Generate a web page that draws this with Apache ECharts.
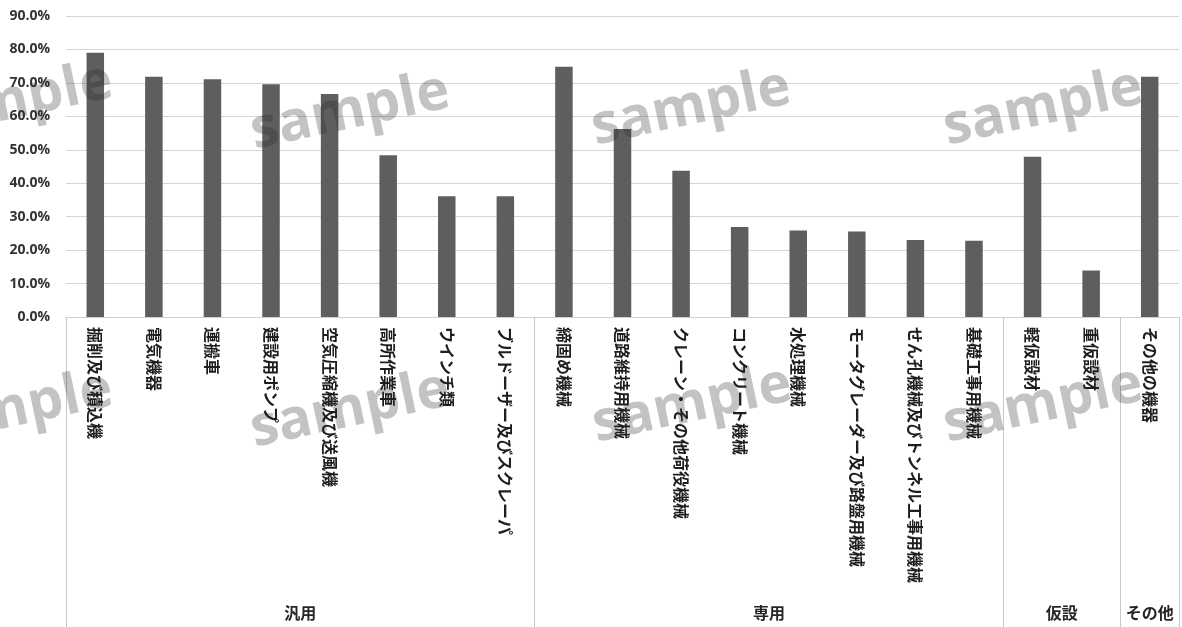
<!DOCTYPE html>
<html>
<head>
<meta charset="utf-8">
<script src="https://cdn.jsdelivr.net/npm/echarts@6/dist/echarts.min.js"></script>
<style>
html,body{margin:0;padding:0;background:#fff;}
#chart{width:1182px;height:627px;}
</style>
</head>
<body>
<div id="chart"></div>
<script>
// ---- data ----
const categories = [
  '掘削及び積込機','電気機器','運搬車','建設用ポンプ','空気圧縮機及び送風機','高所作業車','ウインチ類','ブルドーザー及びスクレーパ',
  '締固め機械','道路維持用機械','クレーン・その他荷役機械','コンクリート機械','水処理機械','モータグレーダー及び路盤用機械','せん孔機械及びトンネル工事用機械','基礎工事用機械',
  '軽仮設材','重仮設材',
  'その他の機器'
];
const values = [79.0, 71.8, 71.1, 69.6, 66.7, 48.4, 36.1, 36.1,
                74.8, 56.2, 43.7, 26.9, 25.9, 25.6, 23.0, 22.8,
                47.9, 13.9,
                71.8];
const groupNames = ['汎用', '専用', '仮設', 'その他'];
const groupSizes = [8, 8, 2, 1];
const yTicks = [0, 10, 20, 30, 40, 50, 60, 70, 80, 90];
const watermarkText = 'sample';

// derived from the data above
const boundaries = [0];
groupSizes.forEach(function (n) { boundaries.push(boundaries[boundaries.length - 1] + n); });
const groupCenters = {};
groupNames.forEach(function (g, i) { groupCenters[(boundaries[i] + boundaries[i + 1]) / 2] = g; });

const chart = echarts.init(document.getElementById('chart'), null, {renderer: 'canvas'});

const wmPos = [[13,102],[350,112],[691,108],[1043,108],[13,410],[350,410],[692,405],[1043,405]];
const graphics = wmPos.map(function (p) {
  return {
    type: 'text', x: p[0], y: p[1], rotation: 0.21, z: 100, silent: true,
    style: {
      text: watermarkText, fill: 'rgba(40,40,40,0.28)',
      font: 'bold 56px "Open Sans", "Noto Sans", sans-serif',
      align: 'center', verticalAlign: 'middle'
    }
  };
});

chart.setOption({
  animation: false,
  backgroundColor: '#ffffff',
  grid: {left: 66, top: 16, width: 1119, height: 301, containLabel: false},
  xAxis: [{
    type: 'category',
    data: categories,
    boundaryGap: true,
    axisLine: {show: true, lineStyle: {color: '#d0d0d0', width: 1}},
    axisTick: {
      show: true, length: 310, inside: false,
      interval: function (index) { return boundaries.indexOf(index) >= 0; },
      lineStyle: {color: '#c8c8c8', width: 1}
    },
    axisLabel: {
      interval: 0, rotate: -90, margin: 10,
      color: '#1e1e1e', fontSize: 16, fontWeight: 'bold',
      fontFamily: '"Noto Sans CJK JP", sans-serif'
    },
    splitLine: {show: false}
  }, {
    type: 'value',
    position: 'bottom',
    min: 0, max: categories.length, interval: 0.5,
    offset: 282,
    axisLine: {show: false}, axisTick: {show: false}, splitLine: {show: false},
    axisLabel: {
      show: true, margin: 6, showMinLabel: true, showMaxLabel: true,
      color: '#262626', fontSize: 16, fontWeight: 'bold',
      fontFamily: '"Noto Sans CJK JP", sans-serif',
      formatter: function (v) { return groupCenters[v] || ''; }
    }
  }],
  yAxis: {
    type: 'value',
    min: yTicks[0], max: yTicks[yTicks.length - 1], interval: 10,
    axisLine: {show: false}, axisTick: {show: false},
    splitLine: {show: true, lineStyle: {color: '#d6d6d6', width: 1}},
    axisLabel: {
      margin: 16, color: '#333333', fontSize: 14, fontWeight: 'bold',
      fontFamily: '"Open Sans", "Noto Sans", sans-serif',
      formatter: function (v) { return v.toFixed(1) + '%'; }
    }
  },
  series: [{
    type: 'bar',
    xAxisIndex: 0,
    data: values,
    barWidth: 17.5,
    itemStyle: {color: '#5e5e5e'}
  }],
  graphic: graphics
});
</script>
</body>
</html>
